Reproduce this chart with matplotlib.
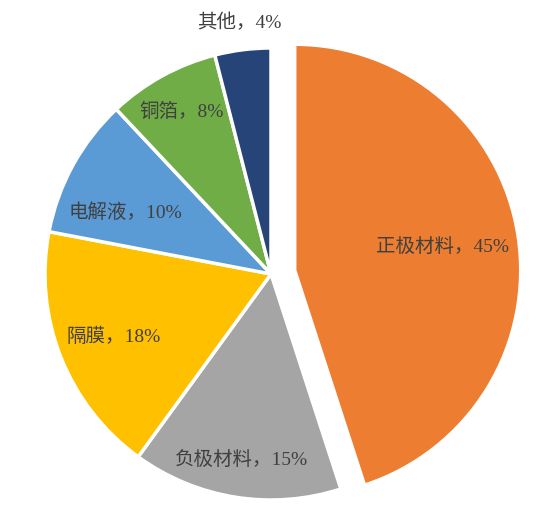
import numpy as np
import matplotlib.pyplot as plt

# Data
labels = ['正极材料', '负极材料', '隔膜', '电解液', '铜箔', '其他']
shares = [45, 15, 18, 10, 8, 4]
colors = ['#ED7D31', '#A5A5A5', '#FFC000', '#5B9BD5', '#70AD47', '#264478']

R = 226
cx, cy = 271, 237

# layout: explode per slice (pixels), label distance (fraction of radius),
# label angle nudge (degrees)
explode = [24, 0, 0, 0, 0, 0]
label_dist = [0.66, 0.835, 0.75, 0.70, 0.82, 1.12]
label_turn = [0, 0, 0, 6, 0, 0]

fig = plt.figure(figsize=(5.59, 5.11), dpi=100)
ax = fig.add_axes([0, 0, 1, 1])

wedges, _ = ax.pie(shares, colors=colors, explode=explode, startangle=90,
                   counterclock=False, radius=R, center=(cx, cy),
                   wedgeprops=dict(edgecolor='white', linewidth=2.5),
                   frame=True)
ax.set_xlim(0, 559)
ax.set_ylim(0, 511)
ax.set_aspect('equal')
ax.axis('off')

for w, lab, val, d, t in zip(wedges, labels, shares, label_dist, label_turn):
    ang = np.deg2rad((w.theta1 + w.theta2) / 2 + t)
    x0, y0 = w.center
    x = x0 + d * R * np.cos(ang)
    y = y0 + d * R * np.sin(ang)
    ax.text(x, y, f'{lab}，{val}%', ha='center', va='center',
            fontsize=14, color='#404040',
            family=['Liberation Serif', 'Noto Sans CJK SC'])

fig.savefig('out.png', dpi=100)
